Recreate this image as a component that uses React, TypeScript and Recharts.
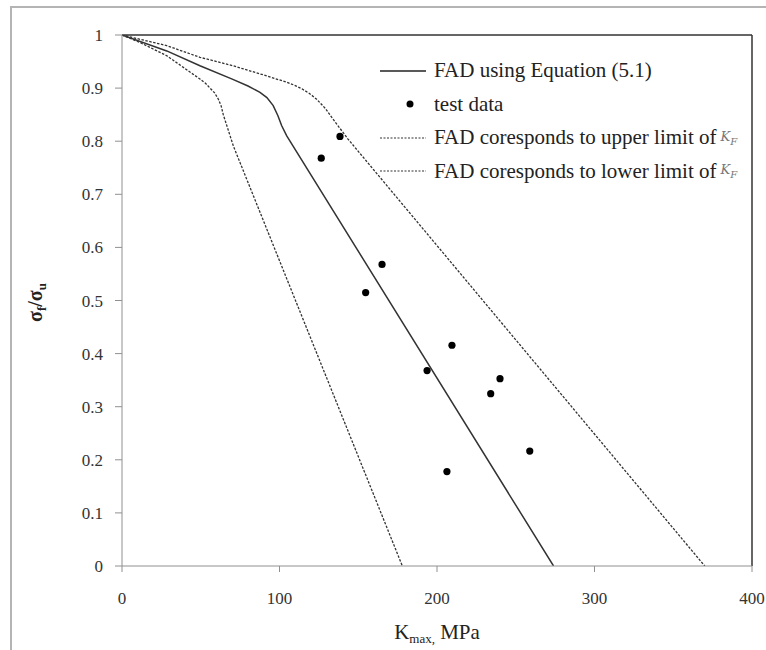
import React from 'react';
import { ComposedChart, Line, Scatter, XAxis, YAxis, ReferenceLine } from 'recharts';

const fadX = [0, 28.4, 49.5, 70, 80, 87.6, 92, 96, 99, 101.4, 104.6, 274];
const fadY = [1, 0.97, 0.942, 0.917, 0.904, 0.892, 0.882, 0.867, 0.848, 0.829, 0.81, 0];

const upperX = [0, 28.4, 49.5, 70.5, 91.9, 104.6, 109, 114, 119, 123.6, 129, 134, 143.5, 370];
const upperY = [1, 0.98, 0.958, 0.942, 0.923, 0.911, 0.906, 0.899, 0.89, 0.879, 0.862, 0.8415, 0.804, 0];

const lowerX = [0, 11.4, 28.4, 49.5, 53, 55.9, 58.8, 61.2, 63, 64.3, 70.7, 178];
const lowerY = [1, 0.986, 0.961, 0.917, 0.909, 0.9, 0.891, 0.879, 0.866, 0.85, 0.791, 0];

const testX = [126.5, 138.4, 154.7, 165.1, 193.7, 209.5, 234.1, 240, 258.9, 206.3];
const testY = [0.768, 0.809, 0.515, 0.568, 0.368, 0.4157, 0.3245, 0.3528, 0.2164, 0.1779];

const xTicks = [0, 100, 200, 300, 400];
const yTicks = [0, 0.1, 0.2, 0.3, 0.4, 0.5, 0.6, 0.7, 0.8, 0.9, 1];

const zip = (xs: number[], ys: number[]) => xs.map((x, i) => ({ x, y: ys[i] }));
const fadData = zip(fadX, fadY);
const upperData = zip(upperX, upperY);
const lowerData = zip(lowerX, lowerY);
const testData = zip(testX, testY);

const SERIF = '"Liberation Serif", "Times New Roman", serif';

const KF = () => (
  <span style={{ fontFamily: '"DejaVu Serif", serif', fontStyle: 'italic', color: '#777', fontSize: 13, marginLeft: 4 }}>
    K<sub style={{ fontSize: 10 }}>F</sub>
  </span>
);

const XTick = (p: any) => (
  <text x={p.x} y={p.y + 12} textAnchor="middle" fontFamily={SERIF} fontSize={17} fill="#333">
    {p.payload.value}
  </text>
);

const YTick = (p: any) => (
  <text x={p.x} y={p.y + 6} textAnchor="end" fontFamily={SERIF} fontSize={17} fill="#333">
    {String(Math.round(p.payload.value * 10) / 10)}
  </text>
);

const LegendBox = () => {
  const row: React.CSSProperties = { display: 'flex', alignItems: 'center', height: 33.5, whiteSpace: 'nowrap' };
  const sample: React.CSSProperties = { width: 46, marginRight: 8, display: 'flex', alignItems: 'center', justifyContent: 'center' };
  return (
    <div style={{ fontFamily: SERIF, fontSize: 21, color: '#222' }}>
      <div style={row}>
        <div style={sample}><svg width={46} height={4}><line x1={0} y1={2} x2={46} y2={2} stroke="#222" strokeWidth={1.5} /></svg></div>
        FAD using Equation (5.1)
      </div>
      <div style={row}>
        <div style={sample}><svg width={46} height={10}><circle cx={30} cy={5} r={3.5} fill="#000" /></svg></div>
        test data
      </div>
      <div style={row}>
        <div style={sample}><svg width={46} height={4}><line x1={0} y1={2} x2={46} y2={2} stroke="#333" strokeWidth={1.2} strokeDasharray="2 1.5" /></svg></div>
        FAD coresponds to upper limit of<KF />
      </div>
      <div style={row}>
        <div style={sample}><svg width={46} height={4}><line x1={0} y1={2} x2={46} y2={2} stroke="#333" strokeWidth={1.2} strokeDasharray="2 1.5" /></svg></div>
        FAD coresponds to lower limit of<KF />
      </div>
    </div>
  );
};

export default function App() {
  return (
    <div style={{ position: 'absolute', left: 0, top: 0, width: 766, height: 650, background: '#fff' }}>
      <div style={{ position: 'absolute', left: 10, top: 6, width: 756, height: 644, borderLeft: '2px solid #b4b4b4', borderTop: '2px solid #b4b4b4' }} />
      <div style={{ position: 'absolute', left: 0, top: 0 }}>
        <ComposedChart width={766} height={650} margin={{ left: 62, top: 35, right: 14, bottom: 54 }}>
          <XAxis
            type="number"
            dataKey="x"
            domain={[0, 400]}
            ticks={xTicks}
            allowDataOverflow
            height={30}
            tickSize={6}
            tickMargin={20}
            stroke="#909090"
            tick={<XTick />}
            label={{
              content: (p: any) => {
                const vb = p.viewBox;
                return (
                  <text x={vb.x + vb.width / 2} y={vb.y + 73} textAnchor="middle" fontFamily={SERIF} fontSize={21} fill="#222">
                    K<tspan fontSize={13} dy={4}>max,</tspan><tspan dy={-4}> MPa</tspan>
                  </text>
                );
              },
            }}
          />
          <YAxis
            type="number"
            dataKey="y"
            domain={[0, 1]}
            ticks={yTicks}
            allowDataOverflow
            width={60}
            tickSize={7}
            tickMargin={12}
            stroke="#909090"
            tick={<YTick />}
            label={{
              content: (p: any) => {
                const vb = p.viewBox;
                const cx = 42;
                const cy = vb.y + vb.height / 2 + 2;
                return (
                  <text x={cx} y={cy} transform={`rotate(-90 ${cx} ${cy})`} textAnchor="middle" fontFamily={SERIF} fontSize={20} fontWeight="bold" fill="#222">
                    σ<tspan fontSize={13} dy={4}>f</tspan><tspan dy={-4}>/σ</tspan><tspan fontSize={13} dy={4}>u</tspan>
                  </text>
                );
              },
            }}
          />
          <ReferenceLine y={1} stroke="#333" strokeWidth={1.5} />
          <ReferenceLine x={400} stroke="#333" strokeWidth={1.5} />
          <Line data={lowerData} dataKey="y" type="linear" stroke="#333" strokeWidth={1.3} strokeDasharray="2.5 1.5" dot={false} isAnimationActive={false} legendType="none" />
          <Line data={upperData} dataKey="y" type="linear" stroke="#333" strokeWidth={1.3} strokeDasharray="2.5 1.5" dot={false} isAnimationActive={false} legendType="none" />
          <Line data={fadData} dataKey="y" type="linear" stroke="#333" strokeWidth={1.5} dot={false} isAnimationActive={false} legendType="none" />
          <Scatter data={testData} dataKey="y" fill="#000" isAnimationActive={false} shape={(p: any) => <circle cx={p.cx} cy={p.cy} r={3.6} fill="#000" />} />
        </ComposedChart>
      </div>
      <div style={{ position: 'absolute', left: 380, top: 54 }}>
        <LegendBox />
      </div>
    </div>
  );
}
